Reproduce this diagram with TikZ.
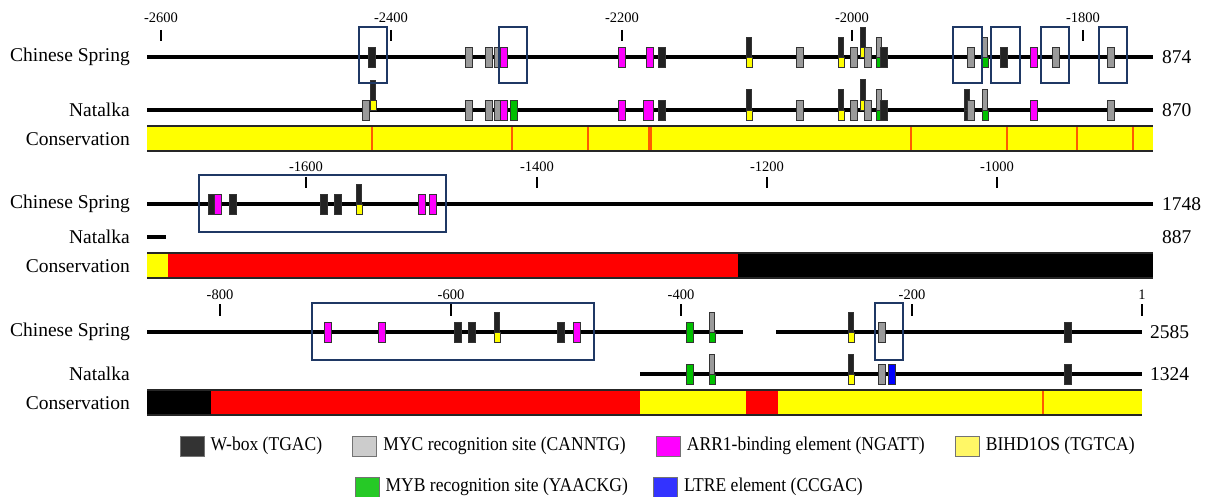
\documentclass[tikz,border=0pt]{standalone}
\usepackage{fontspec}
\setmainfont{Liberation Serif}
\newfontfamily\narrowfont[FakeStretch=0.9]{Liberation Serif}
\usetikzlibrary{positioning}
\definecolor{siteblack}{HTML}{222222}
\definecolor{sitegray}{HTML}{9A9A9A}
\definecolor{sitemagenta}{HTML}{FF00FF}
\definecolor{siteyellow}{HTML}{FFFF00}
\definecolor{sitegreen}{HTML}{00C000}
\definecolor{siteblue}{HTML}{0000FF}
\definecolor{framenavy}{HTML}{1F3864}
\definecolor{consred}{HTML}{FF0000}
\definecolor{consorange}{HTML}{FF5A00}

\begin{document}
\begin{tikzpicture}[x=1pt,y=-1pt,
    seq/.style={line width=3.2pt},
    site/.style={draw=black!80,line width=0.9pt},
    frame/.style={draw=framenavy,line width=1.3pt},
    ticker/.style={line width=1.4pt},
    cons/.style={consorange,line width=2pt},
    rowlabel/.style={anchor=east,inner sep=0pt,font=\fontsize{19.5}{22}\selectfont},
    seqlen/.style={anchor=west,inner sep=0pt,font=\fontsize{19.5}{22}\selectfont},
    poslabel/.style={anchor=base,inner sep=0pt,font=\fontsize{14.5}{16}\selectfont},
    key/.style={draw=black!55,line width=0.8pt,minimum width=24pt,minimum height=20pt,inner sep=0pt},
    keytext/.style={inner sep=0pt,font=\narrowfont\fontsize{19.5}{22}\selectfont}]
  \useasboundingbox (0,0) rectangle (1208,497);

  % block 1: -2612 .. -1739
  \foreach \x/\p in {161/-2600,391/-2400,622/-2200,852/-2000,1083/-1800} {
    \draw[ticker] (\x,30) -- (\x,41);
    \node[poslabel] at (\x,23) {\p};
  }
  \node[rowlabel] (cs1) at (130,57) {Chinese Spring};
  \node[rowlabel] (na1) at (130,110) {Natalka};
  \node[rowlabel] (co1) at (130,139) {Conservation};
  \draw[seq] (147,57) -- (1153,57);
  \draw[seq] (147,110) -- (1153,110);
  \node[seqlen] (len1) at (1162,57) {874};
  \node[seqlen] (len2) at (1162,110) {870};
  % x / top / upper / lower / lower top
  \foreach \x/\t/\u/\l/\b in {749/37/siteblack/siteyellow/57,841/37/siteblack/siteyellow/57,
      863/27/siteblack/siteyellow/47,879/37/sitegray/sitegreen/57,985/37/sitegray/sitegreen/57,
      373/80/siteblack/siteyellow/100,749/89/siteblack/siteyellow/110,841/89/siteblack/siteyellow/110,
      863/79/siteblack/siteyellow/100,879/89/sitegray/sitegreen/110,967/89/siteblack/siteblack/110,
      985/89/sitegray/sitegreen/110} {
    \draw[site,fill=\u] (\x-2.5,\t) rectangle (\x+2.5,\b+10);
    \draw[site,fill=\l] (\x-3,\b) rectangle (\x+3,\b+10);
  }
  \foreach \x/\c in {372/siteblack,469/sitegray,489/sitegray,498/sitegray,504/sitemagenta,
      622/sitemagenta,650/sitemagenta,662/siteblack,800/sitegray,854/sitegray,868/sitegray,
      884/siteblack,971/sitegray,1004/siteblack,1034/sitemagenta,1056/sitegray,1111/sitegray}
    \draw[site,fill=\c] (\x-3.2,47) rectangle (\x+3.2,67);
  \foreach \x/\c in {366/sitegray,469/sitegray,489/sitegray,498/sitegray,504/sitemagenta,
      514/sitegreen,622/sitemagenta,662/siteblack,800/sitegray,854/sitegray,868/sitegray,
      884/siteblack,971/sitegray,1034/sitemagenta,1111/sitegray}
    \draw[site,fill=\c] (\x-3.2,100) rectangle (\x+3.2,120);
  \draw[site,fill=sitemagenta] (643,100) rectangle (653,120);
  \foreach \x/\y in {359/387,499/527,953/982,991/1020,1041/1069,1099/1127}
    \draw[frame] (\x,27) rectangle (\y,83);
  \fill[siteyellow] (147,126) rectangle (1153,151);
  \foreach \x in {372,512,588,911,1007,1077,1133}
    \draw[cons] (\x,126) -- (\x,151);
  \draw[cons,line width=3.5pt] (650,126) -- (650,151);
  \draw[line width=1.2pt,black!85] (147,126) -- (1153,126) (147,151) -- (1153,151);

  % block 2: -1738 .. -865
  \foreach \x/\p in {306/-1600,537/-1400,767/-1200,997/-1000} {
    \draw[ticker] (\x,177) -- (\x,188);
    \node[poslabel] at (\x,172) {\p};
  }
  \node[rowlabel] (cs2) at (130,204) {Chinese Spring};
  \node[rowlabel] (na2) at (130,237) {Natalka};
  \node[rowlabel] (co2) at (130,266) {Conservation};
  \draw[seq] (147,204) -- (1153,204);
  \draw[seq] (147,237) -- (166,237);
  \node[seqlen] (len3) at (1162,204) {1748};
  \node[seqlen] (len4) at (1162,237) {887};
  \draw[site,fill=siteblack] (356.5,184) rectangle (361.5,214);
  \draw[site,fill=siteyellow] (356,204) rectangle (362,214);
  \foreach \x/\c in {212/siteblack,218/sitemagenta,233/siteblack,324/siteblack,338/siteblack,
      422/sitemagenta,433/sitemagenta}
    \draw[site,fill=\c] (\x-3.2,194) rectangle (\x+3.2,214);
  \draw[frame] (199,175) rectangle (446,232);
  \fill[siteyellow] (147,253) rectangle (168,278);
  \fill[consred] (168,253) rectangle (738,278);
  \fill[black] (738,253) rectangle (1153,278);
  \draw[line width=1.2pt,black!85] (147,253) -- (1153,253) (147,278) -- (1153,278);

  % block 3: -862 .. 1
  \foreach \x/\p in {220/-800,451/-600,681/-400,912/-200,1142/1} {
    \draw[ticker] (\x,304) -- (\x,316);
    \node[poslabel] at (\x,299) {\p};
  }
  \node[rowlabel] (cs3) at (130,332) {Chinese Spring};
  \node[rowlabel] (na3) at (130,374) {Natalka};
  \node[rowlabel] (co3) at (130,403) {Conservation};
  \draw[seq] (147,332) -- (743,332);
  \draw[seq] (776,332) -- (1142,332);
  \draw[seq] (640,374) -- (1142,374);
  \node[seqlen] (len5) at (1150,332) {2585};
  \node[seqlen] (len6) at (1150,374) {1324};
  \foreach \x/\t/\u/\l/\b in {497/312/siteblack/siteyellow/332,712/312/sitegray/sitegreen/332,
      851/312/siteblack/siteyellow/332,712/354/sitegray/sitegreen/374,851/354/siteblack/siteyellow/374} {
    \draw[site,fill=\u] (\x-2.5,\t) rectangle (\x+2.5,\b+10);
    \draw[site,fill=\l] (\x-3,\b) rectangle (\x+3,\b+10);
  }
  \foreach \x/\c in {328/sitemagenta,382/sitemagenta,458/siteblack,472/siteblack,561/siteblack,
      577/sitemagenta,690/sitegreen,882/sitegray,1068/siteblack}
    \draw[site,fill=\c] (\x-3.2,322) rectangle (\x+3.2,342);
  \foreach \x/\c in {690/sitegreen,882/sitegray,892/siteblue,1068/siteblack}
    \draw[site,fill=\c] (\x-3.2,364) rectangle (\x+3.2,384);
  \draw[frame] (312,303) rectangle (594,360);
  \draw[frame] (875,303) rectangle (903,360);
  \fill[black] (147,390) rectangle (211,415);
  \fill[consred] (211,390) rectangle (640,415);
  \fill[siteyellow] (640,390) rectangle (746,415);
  \fill[consred] (746,390) rectangle (778,415);
  \fill[siteyellow] (778,390) rectangle (1142,415);
  \draw[cons] (1043,390) -- (1043,415);
  \draw[line width=1.2pt,black!85] (147,390) -- (1142,390) (147,415) -- (1142,415);

  % legend
  \node[key,fill=black!80] (kwbox) at (192,446) {};
  \node[keytext,right=6pt of kwbox] (twbox) {W-box (TGAC)};
  \node[key,fill=black!20,right=30pt of twbox] (kmyc) {};
  \node[keytext,right=6pt of kmyc] (tmyc) {MYC recognition site (CANNTG)};
  \node[key,fill=sitemagenta,right=30pt of tmyc] (karr) {};
  \node[keytext,right=6pt of karr] (tarr) {ARR1-binding element (NGATT)};
  \node[key,fill=yellow!60,right=30pt of tarr] (kbihd) {};
  \node[keytext,right=6pt of kbihd] (tbihd) {BIHD1OS (TGTCA)};
  \node[key,fill=sitegreen!85!white] (kmyb) at (367,487) {};
  \node[keytext,right=6pt of kmyb] (tmyb) {MYB recognition site (YAACKG)};
  \node[key,fill=blue!80,right=25pt of tmyb] (kltre) {};
  \node[keytext,right=6pt of kltre] (tltre) {LTRE element (CCGAC)};
\end{tikzpicture}
\end{document}
